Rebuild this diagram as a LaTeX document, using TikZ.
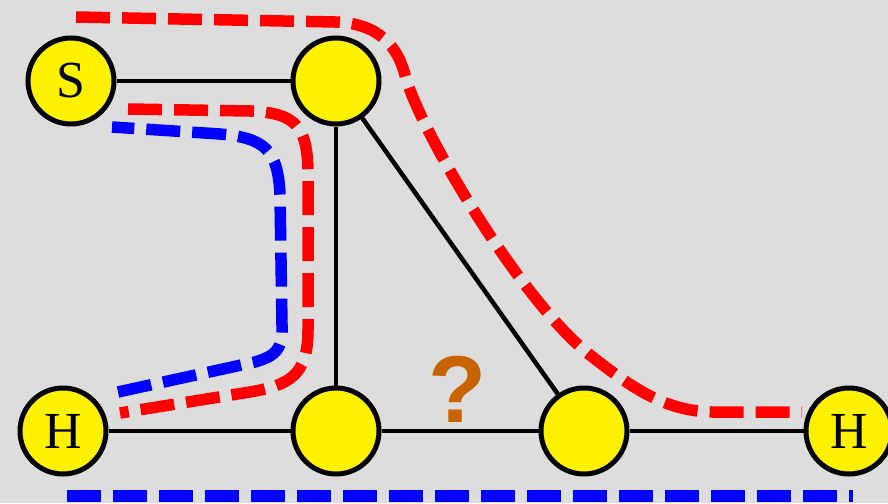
\documentclass[tikz,border=0pt]{standalone}
\usepackage{fontspec}
\setmainfont{Liberation Serif}
\newfontfamily\qfont{Liberation Sans}
\definecolor{bgray}{HTML}{DDDDDD}
\definecolor{qorange}{HTML}{C86400}
\definecolor{pathred}{HTML}{FF0000}
\definecolor{pathblue}{HTML}{0000FF}
\begin{document}
\begin{tikzpicture}[x=1pt,y=-1pt,
  host/.style={circle,draw=black,fill=yellow,line width=5pt,minimum size=86pt,inner sep=0pt,
    font=\fontsize{52}{52}\selectfont},
  link/.style={line width=4.5pt,black},
  route/.style={line width=11.5pt,line cap=butt,dash pattern=on 34pt off 12pt},
  redroute/.style={route,pathred},
  blueroute/.style={route,pathblue}]
  \fill[bgray] (0,0) rectangle (888,503);
  \useasboundingbox (0,0) rectangle (888,503);

  % nodes
  \node[host] (S)  at (71,81)  {S};
  \node[host] (T)  at (336,81) {};
  \node[host] (HL) at (63,431) {H};
  \node[host] (BM) at (336,431) {};
  \node[host] (BR) at (584,431) {};
  \node[host] (HR) at (849,431) {H};

  % links
  \draw[link] (S) -- (T);
  \draw[link] (T) -- (BM);
  \draw[link] (T) -- (BR);
  \draw[link] (HL) -- (BM);
  \draw[link] (BM) -- (BR);
  \draw[link] (BR) -- (HR);

  \node[text=qorange,font=\qfont\bfseries\fontsize{95}{95}\selectfont,anchor=base,inner sep=0pt]
    (q) at (458,422) {?};

  % route end points
  \coordinate (r1s) at (76,17);
  \coordinate (r1e) at (802,412);
  \coordinate (r2s) at (128,109);
  \coordinate (r2e) at (120,413);
  \coordinate (b1s) at (118,392);
  \coordinate (b1e) at (112,127);
  \coordinate (b2s) at (67,496);
  \coordinate (b2e) at (853,496);

  % long red route over the top
  \draw[redroute] (r1s) -- (335,22)
    .. controls (380,23) and (398,48) .. (405,75)
    .. controls (419,129) and (520,300) .. (590,355)
    .. controls (632,388) and (665,411) .. (712,412) -- (r1e);

  % inner red route
  \draw[redroute] (r2s) -- (250,111)
    .. controls (295,113) and (308,125) .. (308,175) -- (308,330)
    .. controls (308,375) and (290,385) .. (250,392) -- (r2e);

  % inner blue route
  \draw[blueroute] (b1s) -- (255,362)
    .. controls (275,356) and (283,350) .. (282,325) -- (280,195)
    .. controls (278,150) and (265,138) .. (220,134) -- (b1e);

  % bottom blue route
  \draw[blueroute] (b2s) -- (b2e);
\end{tikzpicture}
\end{document}
